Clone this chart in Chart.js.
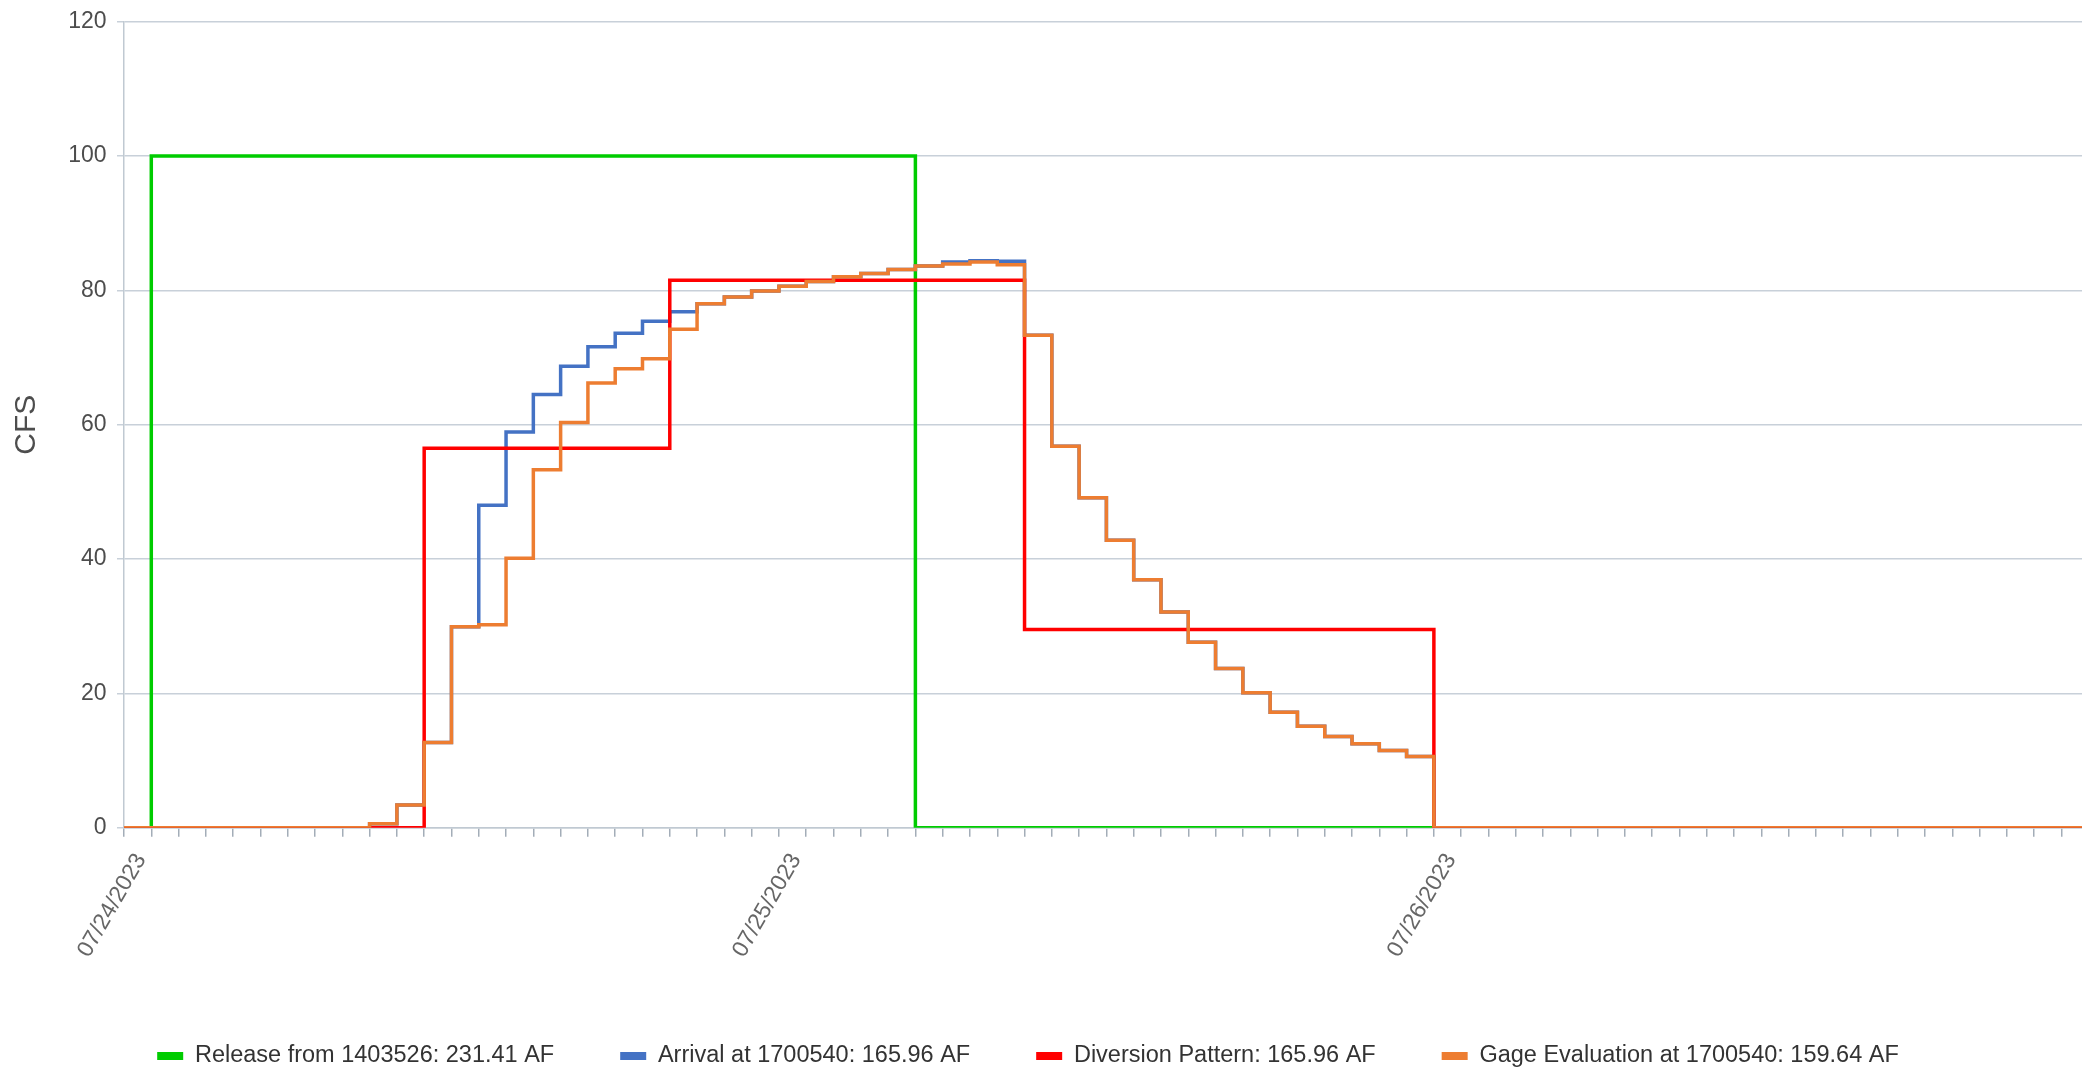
<!DOCTYPE html>
<html>
<head>
<meta charset="utf-8">
<script src="https://cdn.jsdelivr.net/npm/chart.js@4.4.1/dist/chart.umd.min.js"></script>
<style>
  html, body { margin: 0; padding: 0; background: #ffffff; }
  #wrap { width: 2082px; height: 1070px; position: relative; }
  canvas { display: block; }
</style>
</head>
<body>
<div id="wrap"><canvas id="chart" width="2082" height="1070"></canvas></div>
<script>
// ---- Data (hourly values, starting 07/24/2023 00:00; value i holds from hour i to hour i+1) ----
const seriesNames = [
  'Release from 1403526: 231.41 AF',
  'Arrival at 1700540: 165.96 AF',
  'Diversion Pattern: 165.96 AF',
  'Gage Evaluation at 1700540: 159.64 AF'
];

const releaseCfs = [
  0,
  100, 100, 100, 100, 100, 100, 100, 100, 100, 100, 100, 100, 100, 100,
  100, 100, 100, 100, 100, 100, 100, 100, 100, 100, 100, 100, 100, 100,
  0, 0, 0, 0, 0, 0, 0, 0, 0, 0, 0, 0, 0, 0, 0, 0, 0, 0, 0, 0, 0, 0,
  0, 0, 0, 0, 0, 0, 0, 0, 0, 0, 0, 0, 0, 0, 0, 0, 0, 0, 0, 0, 0, 0
];

const arrivalCfs = [
  0, 0, 0, 0, 0, 0, 0, 0, 0,
  0.6, 3.4, 12.7, 29.9, 48.0, 58.9, 64.5, 68.7, 71.6, 73.6, 75.4, 76.8,
  78.0, 79.0, 79.9, 80.6, 81.3, 82.0, 82.5, 83.1, 83.6, 84.2, 84.4, 84.3,
  73.3, 56.8, 49.1, 42.8, 36.9, 32.1, 27.6, 23.7, 20.1, 17.2, 15.1, 13.6, 12.5, 11.5, 10.6,
  0, 0, 0, 0, 0, 0, 0, 0, 0, 0, 0, 0, 0, 0, 0, 0, 0, 0, 0, 0, 0, 0, 0, 0, 0
];

const diversionCfs = [
  0, 0, 0, 0, 0, 0, 0, 0, 0, 0, 0,
  56.5, 56.5, 56.5, 56.5, 56.5, 56.5, 56.5, 56.5, 56.5,
  81.5, 81.5, 81.5, 81.5, 81.5, 81.5, 81.5, 81.5, 81.5, 81.5, 81.5, 81.5, 81.5,
  29.5, 29.5, 29.5, 29.5, 29.5, 29.5, 29.5, 29.5, 29.5, 29.5, 29.5, 29.5, 29.5, 29.5, 29.5,
  0, 0, 0, 0, 0, 0, 0, 0, 0, 0, 0, 0, 0, 0, 0, 0, 0, 0, 0, 0, 0, 0, 0, 0, 0
];

const gageCfs = [
  0, 0, 0, 0, 0, 0, 0, 0, 0,
  0.6, 3.4, 12.7, 29.9, 30.2, 40.1, 53.3, 60.3, 66.2, 68.3, 69.8, 74.2,
  78.0, 79.0, 79.9, 80.6, 81.3, 82.0, 82.5, 83.1, 83.6, 83.9, 84.2, 83.8,
  73.3, 56.8, 49.1, 42.8, 36.9, 32.1, 27.6, 23.7, 20.1, 17.2, 15.1, 13.6, 12.5, 11.5, 10.6,
  0, 0, 0, 0, 0, 0, 0, 0, 0, 0, 0, 0, 0, 0, 0, 0, 0, 0, 0, 0, 0, 0, 0, 0, 0
];

const dateLabels = ['07/24/2023', '07/25/2023', '07/26/2023'];
const dateLabelHours = [0, 24, 48];
const yTicks = [0, 20, 40, 60, 80, 100, 120];

const seriesColors = ['#00cc00', '#4472c4', '#ff0000', '#ed7d31'];

// ---- Chart ----
const FONT = "'Liberation Sans', Arial, Helvetica, sans-serif";
const toPoints = arr => arr.map((v, i) => ({ x: i, y: v }));
const hourTicks = releaseCfs.slice(0, 72).map((_, i) => i);

const allSeries = [releaseCfs, arrivalCfs, diversionCfs, gageCfs];
const datasets = allSeries.map((arr, i) => ({
  label: seriesNames[i],
  data: toPoints(arr),
  borderColor: seriesColors[i],
  backgroundColor: seriesColors[i],
  borderWidth: 3.5,
  stepped: true,
  pointRadius: 0,
  fill: false,
  order: 4 - i
}));

const legendShift = {
  id: 'legendShift',
  afterLayout(chart) {
    if (chart.legend) { chart.legend.left -= 13; chart.legend.right -= 13; }
  }
};

new Chart(document.getElementById('chart').getContext('2d'), {
  type: 'line',
  data: { datasets },
  plugins: [legendShift],
  options: {
    responsive: false,
    devicePixelRatio: 1,
    animation: false,
    layout: { padding: { top: 21.5, bottom: -7.75, left: 0, right: 0 } },
    scales: {
      x: {
        type: 'linear',
        min: 0,
        max: 71.75,
        afterBuildTicks: s => { s.ticks = hourTicks.map(v => ({ value: v })); },
        afterFit: s => { s.height = 150.5; s.paddingLeft = 0; s.paddingRight = 0; },
        grid: { drawOnChartArea: false, drawTicks: true, tickLength: 9, color: '#a3adb8', lineWidth: 1.5 },
        border: { display: true, color: '#c0c9d2', width: 1.5 },
        ticks: {
          autoSkip: false, minRotation: 60, maxRotation: 60, padding: 12, labelOffset: 17,
          color: '#666666', font: { family: FONT, size: 23 },
          callback: v => { const k = dateLabelHours.indexOf(v); return k >= 0 ? dateLabels[k] : ''; }
        }
      },
      y: {
        min: 0,
        max: 120,
        afterBuildTicks: s => { s.ticks = yTicks.map(v => ({ value: v })); },
        afterFit: s => { s.width = 124; s.paddingTop = 0; s.paddingBottom = 0; },
        grid: { color: '#c8d0d9', lineWidth: 1.5, drawTicks: true, tickLength: 7 },
        border: { display: true, color: '#c0c9d2', width: 1.5 },
        ticks: { padding: 10.5, color: '#4d4d4d', font: { family: FONT, size: 23 } },
        title: { display: true, text: 'CFS', color: '#4d4d4d', font: { family: FONT, size: 30, weight: 'normal' }, padding: { top: 9, bottom: 0 } }
      }
    },
    plugins: {
      tooltip: { enabled: false },
      legend: {
        position: 'bottom',
        labels: {
          font: { family: FONT, size: 23.5 },
          color: '#333333',
          boxWidth: 26,
          boxHeight: 8,
          padding: 66,
          sort: (a, b) => a.datasetIndex - b.datasetIndex,
          generateLabels: chart => Chart.defaults.plugins.legend.labels.generateLabels(chart).map(l => Object.assign({}, l, { lineWidth: 0 }))
        }
      }
    }
  }
});
</script>
</body>
</html>
